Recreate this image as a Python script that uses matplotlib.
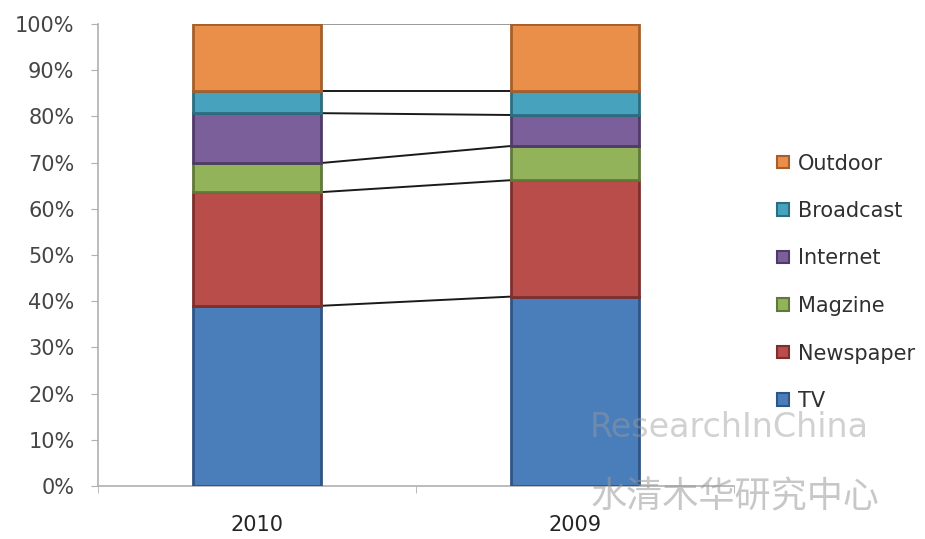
import matplotlib
matplotlib.use("Agg")
import matplotlib.pyplot as plt
from matplotlib.patches import Patch
import numpy as np

years = ["2010", "2009"]
series = ["TV", "Newspaper", "Magzine", "Internet", "Broadcast", "Outdoor"]
values = {
    "TV":        [39.0, 41.0],
    "Newspaper": [24.6, 25.2],
    "Magzine":   [6.3, 7.4],
    "Internet":  [10.8, 6.7],
    "Broadcast": [4.8, 5.2],
    "Outdoor":   [14.5, 14.5],
}
colors = {
    "TV": "#4a7ebb",
    "Newspaper": "#b84d4a",
    "Magzine": "#93b35a",
    "Internet": "#7a5f9a",
    "Broadcast": "#47a3bd",
    "Outdoor": "#e98f4a",
}
edges = {
    "TV": "#2f5584",
    "Newspaper": "#7e2f2d",
    "Magzine": "#60793a",
    "Internet": "#4f3b68",
    "Broadcast": "#2c6e80",
    "Outdoor": "#a65f2a",
}
yticks = [0, 10, 20, 30, 40, 50, 60, 70, 80, 90, 100]

fig = plt.figure(figsize=(9.25, 5.39), dpi=100)
ax = fig.add_axes([0.106, 0.0983, 0.6875, 0.8572])

x = np.arange(len(years))
w = 0.4
bottom = np.zeros(len(years))
tops = []
for s in series:
    v = np.array(values[s])
    ax.bar(x, v, w, bottom=bottom, color=colors[s], edgecolor=edges[s],
           linewidth=2.0, label=s, zorder=3)
    bottom = bottom + v
    tops.append(bottom.copy())

# series lines
for i, t in enumerate(tops):
    col = "#9a9a9a" if i == len(tops) - 1 else "#1a1a1a"
    ax.plot([x[0] + w / 2, x[1] - w / 2], [t[0], t[1]], color=col,
            linewidth=1.4, zorder=2)

ax.set_xlim(-0.5, 1.5)
ax.set_ylim(0, 100)
ax.set_yticks(yticks)
ax.set_yticklabels([f"{t}%" for t in yticks], fontsize=15, color="#454545")
ax.set_xticks(x)
ax.set_xticklabels(years, fontsize=15, color="#252525")
ax.tick_params(axis="x", length=0, pad=21)
ax.tick_params(axis="y", length=5, color="#b0b0b0", pad=12)
ax.set_xticks([-0.5, 0.5, 1.5], minor=True)
ax.tick_params(axis="x", which="minor", length=5, color="#b0b0b0")
for sp in ["top", "right"]:
    ax.spines[sp].set_visible(False)
for sp in ["left", "bottom"]:
    ax.spines[sp].set_color("#b0b0b0")
    ax.spines[sp].set_linewidth(1.2)

handles = [Patch(facecolor=colors[s], edgecolor=edges[s], linewidth=1.5)
           for s in series[::-1]]
leg = fig.legend(handles, series[::-1], loc="upper left",
                 bbox_to_anchor=(0.82, 0.75), frameon=False, fontsize=15,
                 handlelength=0.55, handleheight=0.55, handletextpad=0.45,
                 labelspacing=1.32)
for t in leg.get_texts():
    t.set_color("#303030")

# watermark
fig.text(0.638, 0.19, "ResearchInChina", fontsize=24,
         family=["DejaVu Sans"], color="#9a9a9a", alpha=0.45, zorder=10)
fig.text(0.638, 0.058, "水清木华研究中心", fontsize=26,
         family=["Noto Sans CJK SC", "DejaVu Sans"],
         color="#9a9a9a", alpha=0.55, zorder=10)

fig.savefig("out.png", dpi=100)
